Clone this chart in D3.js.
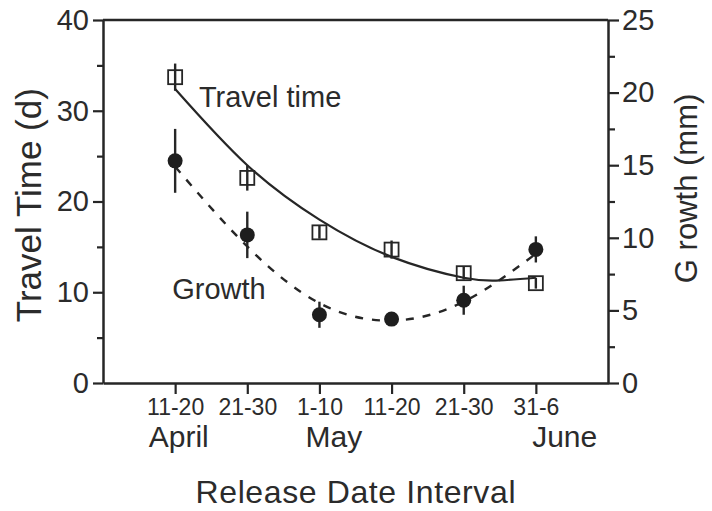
<!DOCTYPE html>
<html>
<head>
<meta charset="utf-8">
<script src="https://cdn.jsdelivr.net/npm/d3@7"></script>
<style>
  body { margin: 0; background: #fff; }
  text { font-family: "Liberation Sans", Arial, sans-serif; fill: #2b2b2b; }
</style>
</head>
<body>
<div id="wrapper"></div>
<script>
// data
const intervals = ["11-20", "21-30", "1-10", "11-20", "21-30", "31-6"];
const months = [{ label: "April", at: 0.05 }, { label: "May", at: 2.2 }, { label: "June", at: 5.4 }];

const travelTime = [33.7, 22.6, 16.6, 14.7, 12.1, 11.0];
const travelErr = [1.5, 1.4, 0.7, 1.0, 0.7, 0.6];
const travelFit = [[0, 32.4], [1, 24.0], [2, 18.0], [3, 13.9], [4, 11.6], [4.5, 11.3], [5, 11.6]];

const growth = [15.3, 10.2, 4.7, 4.4, 5.7, 9.2];
const growthErr = [2.2, 1.6, 0.9, 0.4, 1.0, 0.9];
const growthFit = [[0, 14.9], [1, 9.4], [2, 5.5], [3, 4.3], [4, 5.6], [5, 8.9]];

const leftTicks = [0, 10, 20, 30, 40];
const leftMinor = [5, 15, 25, 35];
const rightTicks = [0, 5, 10, 15, 20, 25];
const rightMinor = [2.5, 7.5, 12.5, 17.5, 22.5];

const width = 712, height = 511;
let dimensions = {
  width: width,
  height: height,
  margin: { top: 20, right: 104, bottom: 128, left: 103 },
};
dimensions.boundedWidth = dimensions.width - dimensions.margin.left - dimensions.margin.right;
dimensions.boundedHeight = dimensions.height - dimensions.margin.top - dimensions.margin.bottom;

const ink = "#262626";

const wrapper = d3.select("#wrapper")
  .append("svg")
  .attr("width", dimensions.width)
  .attr("height", dimensions.height);

const bounds = wrapper.append("g")
  .attr("transform", `translate(${dimensions.margin.left},${dimensions.margin.top})`);

const xScaler = d3.scaleLinear().domain([-1, 6]).range([0, dimensions.boundedWidth]);
const yLeft = d3.scaleLinear().domain([0, 40]).range([dimensions.boundedHeight, 0]);
const yRight = d3.scaleLinear().domain([0, 25]).range([dimensions.boundedHeight, 0]);

// frame top line
bounds.append("line")
  .attr("x1", 0).attr("x2", dimensions.boundedWidth)
  .attr("y1", 0).attr("y2", 0)
  .attr("stroke", ink).attr("stroke-width", 2.5);

// axes
const styleAxis = (g, size) => {
  g.select(".domain").attr("stroke", ink).attr("stroke-width", 2.5);
  g.selectAll(".tick line").attr("stroke", ink).attr("stroke-width", 2.2);
  g.selectAll(".tick text").style("font-family", "Liberation Sans, Arial, sans-serif")
    .attr("font-size", size).attr("fill", "#2b2b2b");
};

const axisX = bounds.append("g")
  .attr("transform", `translate(0,${dimensions.boundedHeight})`)
  .call(d3.axisBottom(xScaler).tickValues(d3.range(intervals.length))
    .tickFormat(i => intervals[i]).tickSize(11).tickSizeOuter(0).tickPadding(5));
styleAxis(axisX, "23px");

const axisL = bounds.append("g")
  .call(d3.axisLeft(yLeft).tickValues(leftTicks).tickSize(10).tickSizeOuter(0).tickPadding(4));
styleAxis(axisL, "29px");
bounds.append("g")
  .call(d3.axisLeft(yLeft).tickValues(leftMinor).tickSize(6).tickFormat(""))
  .call(g => g.select(".domain").remove())
  .call(g => styleAxis(g, "1px"));

const axisR = bounds.append("g")
  .attr("transform", `translate(${dimensions.boundedWidth},0)`)
  .call(d3.axisRight(yRight).tickValues(rightTicks).tickSize(11).tickSizeOuter(0).tickPadding(3));
styleAxis(axisR, "29px");
bounds.append("g")
  .attr("transform", `translate(${dimensions.boundedWidth},0)`)
  .call(d3.axisRight(yRight).tickValues(rightMinor).tickSize(7).tickFormat(""))
  .call(g => g.select(".domain").remove())
  .call(g => styleAxis(g, "1px"));

// month labels
bounds.selectAll(".month")
  .data(months)
  .enter()
  .append("text")
  .attr("x", d => xScaler(d.at))
  .attr("y", dimensions.boundedHeight + 64)
  .attr("text-anchor", "middle")
  .attr("font-size", "30px")
  .text(d => d.label);

// axis titles
bounds.append("text")
  .attr("x", xScaler(2.5))
  .attr("y", dimensions.boundedHeight + 120)
  .attr("text-anchor", "middle")
  .attr("font-size", "32px")
  .attr("textLength", 320)
  .attr("lengthAdjust", "spacing")
  .text("Release Date Interval");

bounds.append("text")
  .attr("transform", `translate(${-dimensions.margin.left + 41},${yLeft(19.6)}) rotate(-90)`)
  .attr("text-anchor", "middle")
  .attr("font-size", "35px")
  .text("Travel Time (d)");

bounds.append("text")
  .attr("transform", `translate(${dimensions.boundedWidth + 89},${yRight(13.4)}) rotate(-90)`)
  .attr("text-anchor", "middle")
  .attr("font-size", "31px")
  .text("G rowth (mm)");

// fitted curves
const travelLine = d3.line()
  .x(d => xScaler(d[0]))
  .y(d => yLeft(d[1]))
  .curve(d3.curveNatural);
bounds.append("path")
  .attr("d", travelLine(travelFit))
  .attr("fill", "none")
  .attr("stroke", ink)
  .attr("stroke-width", 2.2);

const growthLine = d3.line()
  .x(d => xScaler(d[0]))
  .y(d => yRight(d[1]))
  .curve(d3.curveNatural);
bounds.append("path")
  .attr("d", growthLine(growthFit))
  .attr("fill", "none")
  .attr("stroke", ink)
  .attr("stroke-width", 2.4)
  .attr("stroke-dasharray", "8 9");

// error bars
bounds.selectAll(".errT")
  .data(travelTime)
  .enter()
  .append("line")
  .attr("x1", (d, i) => xScaler(i))
  .attr("x2", (d, i) => xScaler(i))
  .attr("y1", (d, i) => yLeft(d + travelErr[i]))
  .attr("y2", (d, i) => yLeft(d - travelErr[i]))
  .attr("stroke", ink)
  .attr("stroke-width", 2.4);

bounds.selectAll(".errG")
  .data(growth)
  .enter()
  .append("line")
  .attr("x1", (d, i) => xScaler(i))
  .attr("x2", (d, i) => xScaler(i))
  .attr("y1", (d, i) => yRight(d + growthErr[i]))
  .attr("y2", (d, i) => yRight(d - growthErr[i]))
  .attr("stroke", ink)
  .attr("stroke-width", 2.4);

// markers
const sq = 14;
bounds.selectAll(".sq")
  .data(travelTime)
  .enter()
  .append("rect")
  .attr("x", (d, i) => xScaler(i) - sq / 2)
  .attr("y", d => yLeft(d) - sq / 2)
  .attr("width", sq)
  .attr("height", sq)
  .attr("fill", "none")
  .attr("stroke", ink)
  .attr("stroke-width", 1.8);

bounds.selectAll(".dot")
  .data(growth)
  .enter()
  .append("circle")
  .attr("cx", (d, i) => xScaler(i))
  .attr("cy", d => yRight(d))
  .attr("r", 7.5)
  .attr("fill", "#1e1e1e");

// series labels
bounds.append("text")
  .attr("x", xScaler(0.33))
  .attr("y", yLeft(30.4))
  .attr("font-size", "29px")
  .text("Travel time");

bounds.append("text")
  .attr("x", xScaler(-0.04))
  .attr("y", yLeft(9.25))
  .attr("font-size", "29px")
  .text("Growth");
</script>
</body>
</html>
